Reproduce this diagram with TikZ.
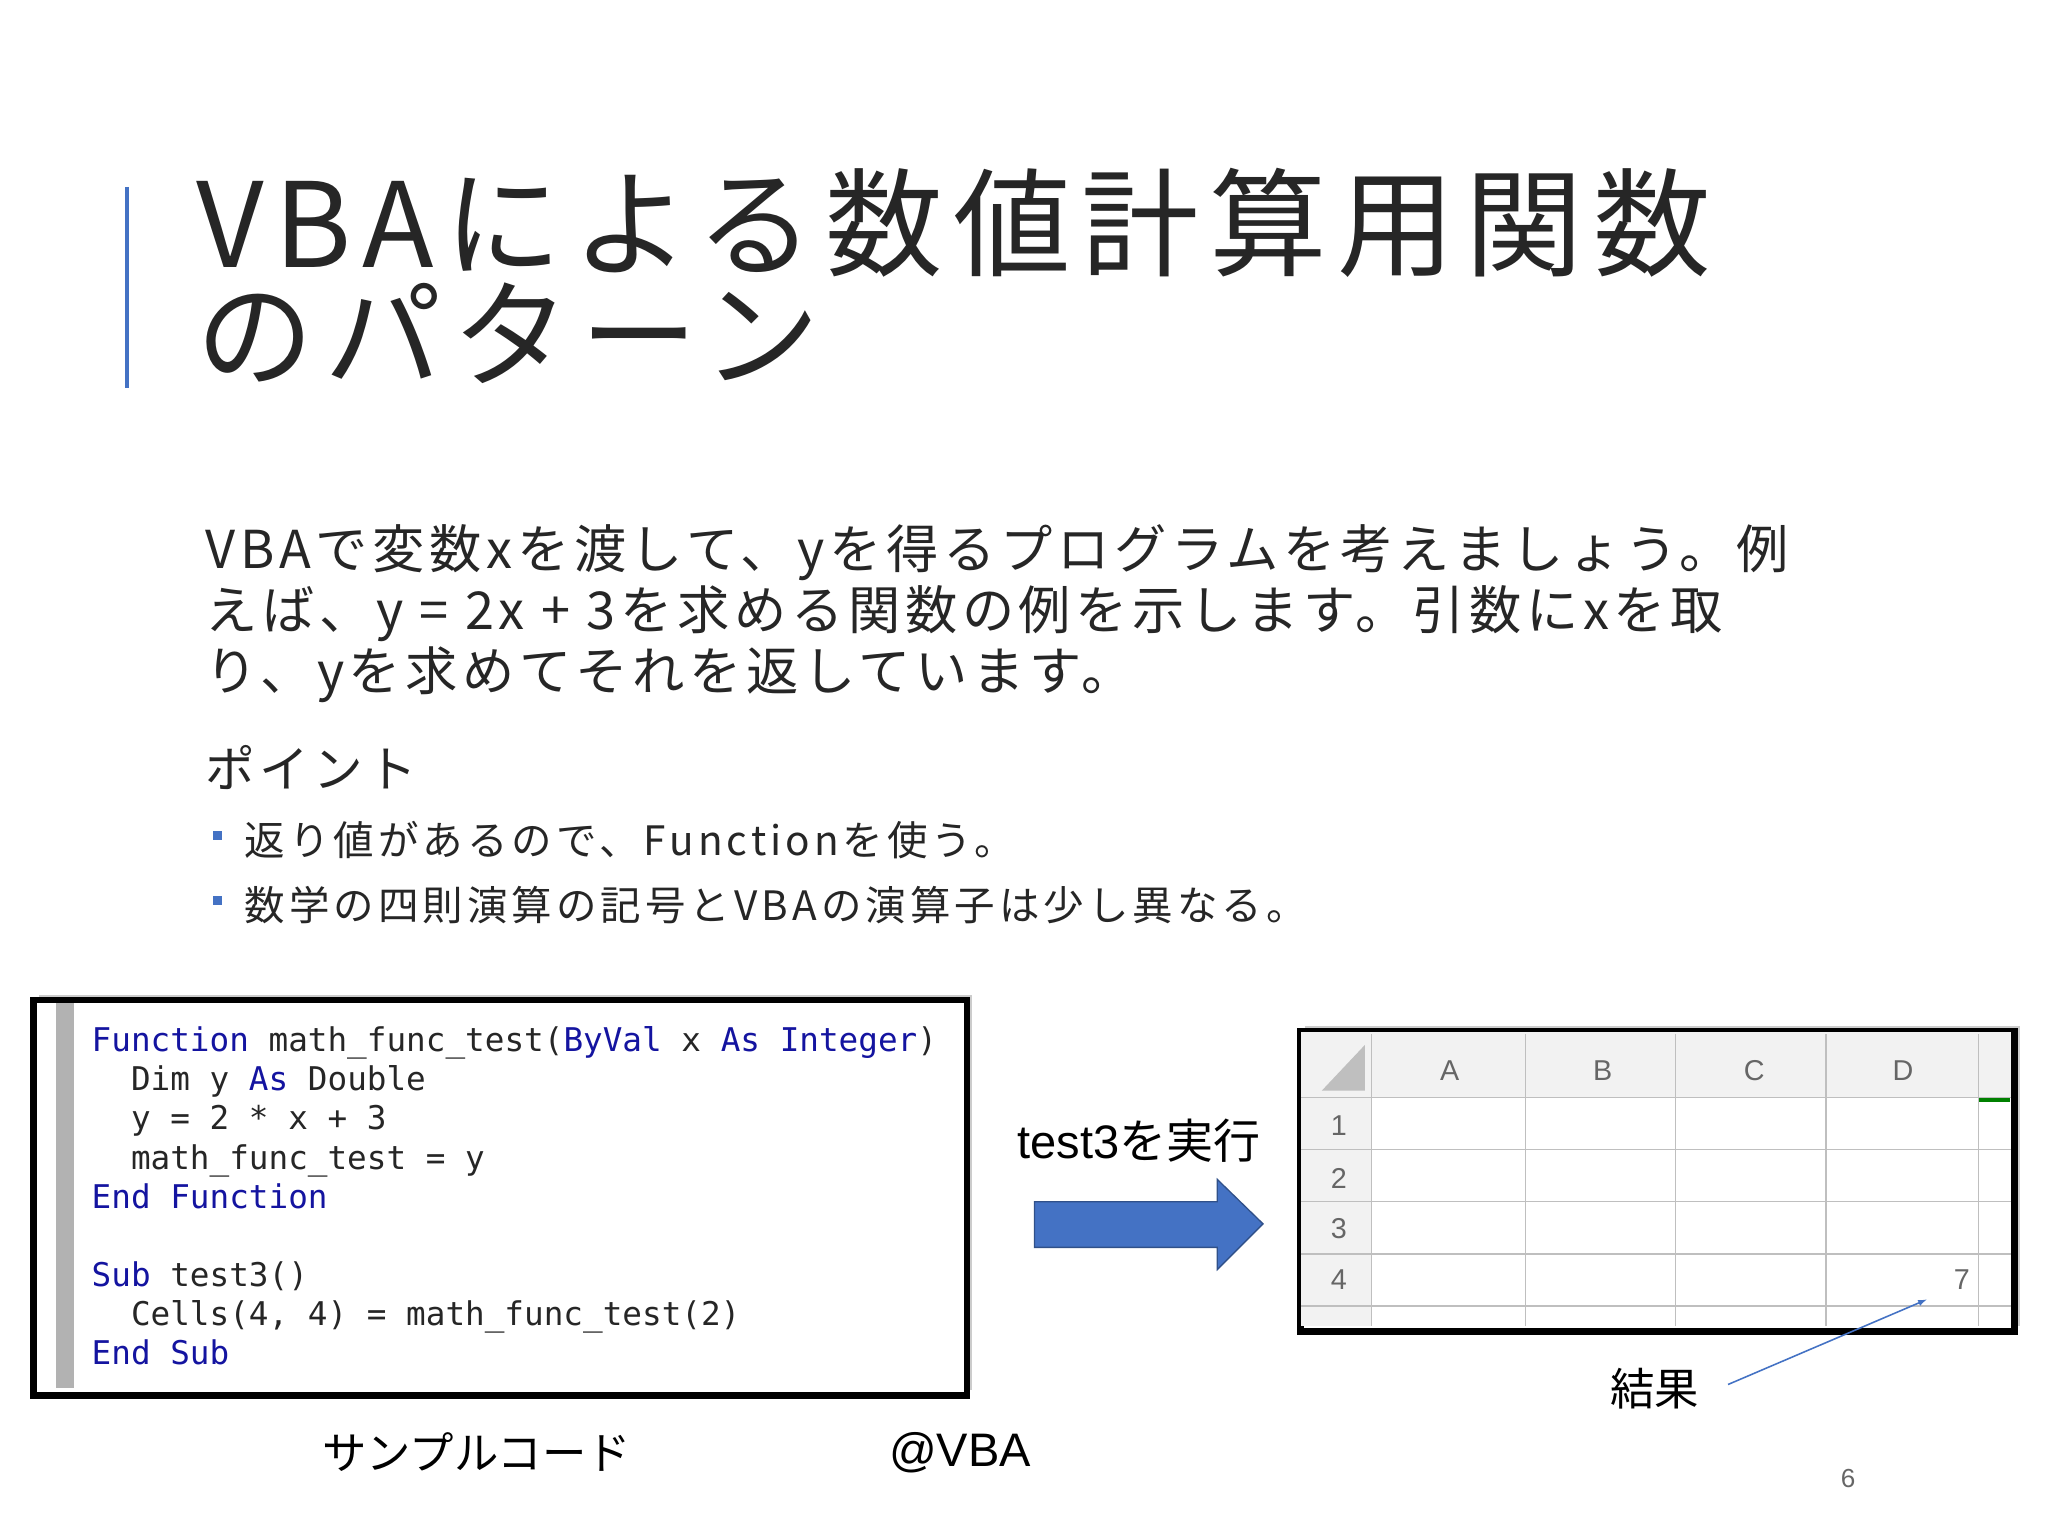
\documentclass[tikz,border=0pt]{standalone}
\usepackage{fontspec}
\setmainfont{Noto Sans CJK JP}
\newfontfamily\jp{Noto Sans CJK JP}
\newfontfamily\jpw[LetterSpace=9]{Noto Sans CJK JP}
\newfontfamily\jpb[LetterSpace=10]{Noto Sans CJK JP}
\newfontfamily\arl{Liberation Sans}
\newfontfamily\cmono{DejaVu Sans Mono}
\usetikzlibrary{shadows}
\definecolor{kw}{RGB}{20,20,160}
\definecolor{accent}{RGB}{68,114,196}
\tikzset{
 ttl/.style={anchor=base west,inner sep=0,font=\jpw\fontsize{90}{90}\selectfont,text=black!85},
 body/.style={anchor=base west,inner sep=0,font=\jpw\fontsize{40}{47}\selectfont,text=black!85},
 bul/.style={anchor=base west,inner sep=0,font=\jpb\fontsize{31}{36}\selectfont,text=black!85},
 code/.style={anchor=base west,inner sep=0,font=\cmono\fontsize{25}{30}\selectfont,text=black!85},
 cell/.style={font=\arl\fontsize{22}{24}\selectfont,text=black!60,inner sep=0},
 lab/.style={font=\arl\fontsize{36}{40}\selectfont,inner sep=0},
 grid/.style={draw=black!25,line width=1pt}
}
\newcommand{\kwd}[1]{\textcolor{kw}{#1}}
\begin{document}
\begin{tikzpicture}[x=1pt,y=-1pt]
\useasboundingbox[fill=white] (0,0) rectangle (1568,1176);
\draw[accent,line width=3pt] (97,143) -- (97,297);
\node[ttl] (t1) at (150,205) {VBAによる数値計算用関数};
\node[ttl] (t2) at (150,290) {のパターン};
\node[body] (p1) at (157,435) {VBAで変数xを渡して、yを得るプログラムを考えましょう。例};
\node[body] (p2) at (157,482) {えば、y = 2x + 3を求める関数の例を示します。引数にxを取};
\node[body] (p3) at (157,529) {り、yを求めてそれを返しています。};
\node[body,font=\jpw\fontsize{38}{40}\selectfont] (pt) at (157,603) {ポイント};
\fill[accent] (163,636) rectangle (170,643);
\fill[accent] (163,686) rectangle (170,693);
\node[bul] (b1) at (187,655) {返り値があるので、Functionを使う。};
\node[bul] (b2) at (187,705) {数学の四則演算の記号とVBAの演算子は少し異なる。};
% code box
\node[draw=black,line width=5pt,fill=white,minimum width=715pt,minimum height=303pt,anchor=north west,drop shadow={shadow xshift=4pt,shadow yshift=4pt,opacity=.4}] (cb) at (23,763) {};
\fill[black!30] (43,768) rectangle (57,1063);
\node[code] (c1) at (70,805) {\kwd{Function} math\_func\_test(\kwd{ByVal} x \kwd{As} \kwd{Integer})};
\node[code] (c2) at (70,835) {\ \ Dim y \kwd{As} Double};
\node[code] (c3) at (70,865) {\ \ y = 2 * x + 3};
\node[code] (c4) at (70,895) {\ \ math\_func\_test = y};
\node[code] (c5) at (70,925) {\kwd{End} \kwd{Function}};
\node[code] (c6) at (70,985) {\kwd{Sub} test3()};
\node[code] (c7) at (70,1015) {\ \ Cells(4, 4) = math\_func\_test(2)};
\node[code] (c8) at (70,1045) {\kwd{End} \kwd{Sub}};
% arrow
\node[lab] (run) at (872,873) {test3{\jp を実行}};
\filldraw[fill=accent,draw=accent!70!black,line width=1pt] (792,920) -- (932,920) -- (932,903) -- (967,937) -- (932,972) -- (932,955) -- (792,955) -- cycle;
% spreadsheet
\node[draw=black,line width=5pt,fill=white,minimum width=547pt,minimum height=230pt,anchor=north west,drop shadow={shadow xshift=4pt,shadow yshift=4pt,opacity=.4}] (sb) at (993,787) {};
\fill[black!5] (996,790) rectangle (1540,840);
\fill[black!5] (996,840) rectangle (1050,1015);
\fill[black!25] (1045,800) -- (1045,835) -- (1012,835) -- cycle;
\foreach \x in {1050,1168,1283,1398,1515} \draw[grid] (\x,792) -- (\x,1015);
\foreach \y in {840,880,920,960,1000} \draw[grid] (996,\y) -- (1540,\y);
\draw[green!50!black,line width=3pt] (1515,842) -- (1539,842);
\node[cell] (hA) at (1110,820) {A};
\node[cell] (hB) at (1227,820) {B};
\node[cell] (hC) at (1343,820) {C};
\node[cell] (hD) at (1457,820) {D};
\node[cell] (r1) at (1025,862) {1};
\node[cell] (r2) at (1025,902) {2};
\node[cell] (r3) at (1025,941) {3};
\node[cell] (r4) at (1025,980) {4};
\node[cell] (v7) at (1502,980) {7};
\coordinate (tip) at (1475,995);
\node[lab,font=\jp\fontsize{34}{36}\selectfont] (res) at (1267,1063) {結果};
\draw[accent,line width=1.2pt,-latex] (1323,1060) -- (tip);
\node[lab,font=\jp\fontsize{34}{36}\selectfont] (samp) at (365,1112) {サンプルコード};
\node[lab] (at) at (735,1112) {@VBA};
\node[font=\arl\fontsize{20}{22}\selectfont,text=black!60] (pg) at (1415,1132) {6};
\end{tikzpicture}
\end{document}
